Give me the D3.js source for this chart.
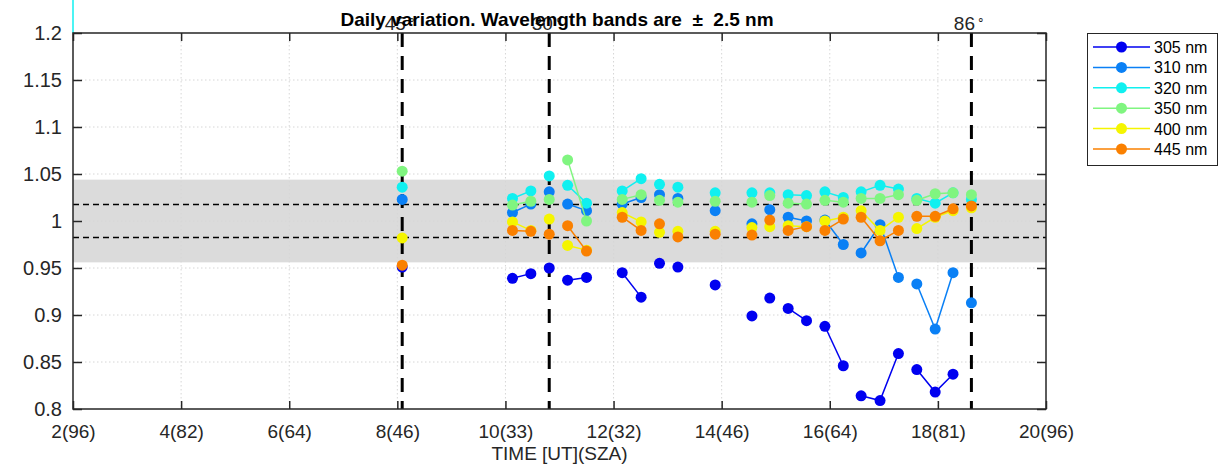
<!DOCTYPE html>
<html>
<head>
<meta charset="utf-8">
<script src="https://cdn.jsdelivr.net/npm/d3@7"></script>
<style>
  body { margin: 0; background: #fff; }
  svg text { font-family: "Liberation Sans", Arial, Helvetica, sans-serif; }
</style>
</head>
<body>
<svg id="chart" width="1224" height="464"></svg>
<script>
// Measurement times [UT hours]
const times = [8.09, 10.13, 10.47, 10.81, 11.15, 11.50, 12.16, 12.51, 12.85, 13.19,
  13.88, 14.56, 14.89, 15.23, 15.57, 15.91, 16.25, 16.58, 16.93, 17.27, 17.61, 17.95, 18.28, 18.62];
// which points are joined by a line
const groups = [[0], [1, 2], [3], [4, 5], [6, 7], [8], [9], [10], [11], [12],
  [13, 14], [15, 16], [17, 18, 19], [20, 21, 22], [23]];

const wl305 = [0.951, 0.939, 0.944, 0.950, 0.937, 0.940, 0.945, 0.919, 0.955, 0.951,
  0.932, 0.899, 0.918, 0.907, 0.894, 0.888, 0.846, 0.814, 0.809, 0.859, 0.842, 0.818, 0.837, null];
const wl310 = [1.023, 1.009, 1.018, 1.031, 1.018, 1.011, 1.018, 1.025, 1.028, 1.024,
  1.011, 0.997, 1.012, 1.004, 1.000, 1.001, 0.975, 0.966, 0.996, 0.940, 0.933, 0.885, 0.945, 0.913];
const wl320 = [1.036, 1.024, 1.032, 1.048, 1.038, 1.019, 1.032, 1.045, 1.039, 1.036,
  1.030, 1.030, 1.030, 1.028, 1.027, 1.031, 1.025, 1.031, 1.038, 1.034, 1.024, 1.019, 1.030, 1.023];
const wl350 = [1.053, 1.017, 1.021, 1.023, 1.065, 1.000, 1.023, 1.028, 1.022, 1.020,
  1.021, 1.020, 1.027, 1.019, 1.018, 1.022, 1.020, 1.024, 1.024, 1.028, 1.022, 1.029, 1.030, 1.028];
const wl400 = [0.982, 0.999, 0.990, 1.002, 0.974, 0.969, 1.009, 0.999, 0.988, 0.989,
  0.989, 0.993, 0.994, 0.995, 0.994, 1.000, 1.004, 1.011, 0.990, 1.004, 0.992, 1.004, 1.011, 1.014];
const wl445 = [0.953, 0.990, 0.989, 0.986, 0.995, 0.968, 1.004, 0.990, 0.997, 0.983,
  0.986, 0.985, 1.001, 0.990, 0.994, 0.990, 1.002, 1.004, 0.979, 0.990, 1.005, 1.005, 1.013, 1.016];

const seriesNames = ["305 nm", "310 nm", "320 nm", "350 nm", "400 nm", "445 nm"];
const seriesValues = [wl305, wl310, wl320, wl350, wl400, wl445];
const seriesColors = ["#0000f0", "#0a80f5", "#10f0f0", "#80f580", "#f5f500", "#fa8000"];

const xTicks = [2, 4, 6, 8, 10, 12, 14, 16, 18, 20];
const xTickLabels = ["2(96)", "4(82)", "6(64)", "8(46)", "10(33)", "12(32)", "14(46)", "16(64)", "18(81)", "20(96)"];
const yTicks = [0.8, 0.85, 0.9, 0.95, 1, 1.05, 1.1, 1.15, 1.2];

// vertical markers with their solar zenith angle
const markTimes = [8.09, 10.81, 18.62];
const markLabels = ["45", "30", "86"];

const band = [0.956, 1.044];
const limits = [0.9825, 1.0175];

const svg = d3.select("#chart");
const plotL = 73, plotR = 1046, plotT = 33, plotB = 409;
const ink = "#262626";

const x = d3.scaleLinear().domain([2, 20]).range([plotL, plotR]);
const y = d3.scaleLinear().domain([0.8, 1.2]).range([plotB, plotT]);

// grey tolerance band
svg.append("rect")
  .attr("x", plotL).attr("width", plotR - plotL)
  .attr("y", y(band[1])).attr("height", y(band[0]) - y(band[1]))
  .attr("fill", "#dbdbdb");

// dotted grid
const grid = svg.append("g").attr("stroke", "#d6d6d6").attr("stroke-width", 1).attr("stroke-dasharray", "1.5,2.5");
grid.selectAll(".gx").data(xTicks.slice(1, -1)).join("line")
  .attr("x1", d => x(d)).attr("x2", d => x(d)).attr("y1", plotT).attr("y2", plotB);
grid.selectAll(".gy").data(yTicks.slice(1, -1)).join("line")
  .attr("x1", plotL).attr("x2", plotR).attr("y1", d => y(d)).attr("y2", d => y(d));

// horizontal limit lines
svg.selectAll(".lim").data(limits).join("line")
  .attr("x1", plotL).attr("x2", plotR)
  .attr("y1", d => y(d)).attr("y2", d => y(d))
  .attr("stroke", "#000").attr("stroke-width", 1.5).attr("stroke-dasharray", "6,4");

// vertical dashed markers
svg.selectAll(".mark").data(markTimes).join("line")
  .attr("x1", d => x(d)).attr("x2", d => x(d)).attr("y1", plotT).attr("y2", plotB)
  .attr("stroke", "#000").attr("stroke-width", 3).attr("stroke-dasharray", "14,9");

// stray cyan segment above the axes
svg.append("line")
  .attr("x1", x(2)).attr("x2", x(2)).attr("y1", 0).attr("y2", plotT)
  .attr("stroke", "#10f0f0").attr("stroke-width", 1.5);

// data
const line = d3.line().x(d => x(d[0])).y(d => y(d[1]));
seriesValues.forEach((vals, si) => {
  const g = svg.append("g");
  groups.forEach(idx => {
    const pts = idx.filter(i => vals[i] != null).map(i => [times[i], vals[i]]);
    if (pts.length > 1) {
      g.append("path").attr("d", line(pts)).attr("fill", "none")
        .attr("stroke", seriesColors[si]).attr("stroke-width", 1.5);
    }
  });
  g.selectAll("circle").data(times.map((t, i) => [t, vals[i]]).filter(d => d[1] != null))
    .join("circle")
    .attr("cx", d => x(d[0])).attr("cy", d => y(d[1])).attr("r", 5.5)
    .attr("fill", seriesColors[si]);
});

// axes box and ticks
const axisG = svg.append("g");
axisG.append("rect").attr("x", plotL).attr("y", plotT).attr("width", plotR - plotL).attr("height", plotB - plotT)
  .attr("fill", "none").attr("stroke", ink).attr("stroke-width", 1.5);

const xAxis = d3.axisBottom(x).tickValues(xTicks).tickSize(-8).tickPadding(16)
  .tickFormat((d, i) => xTickLabels[i]);
const gx = axisG.append("g").attr("transform", `translate(0,${plotB})`).call(xAxis);
const yAxis = d3.axisLeft(y).tickValues(yTicks).tickSize(-9).tickPadding(11)
  .tickFormat(d => String(+d.toFixed(2)));
const gy = axisG.append("g").attr("transform", `translate(${plotL},0)`).call(yAxis);
const gxTop = axisG.append("g").attr("transform", `translate(0,${plotT})`)
  .call(d3.axisTop(x).tickValues(xTicks).tickSize(-8).tickFormat(""));
const gyRight = axisG.append("g").attr("transform", `translate(${plotR},0)`)
  .call(d3.axisRight(y).tickValues(yTicks).tickSize(-9).tickFormat(""));
[gx, gy, gxTop, gyRight].forEach(g => {
  g.select(".domain").remove();
  g.selectAll(".tick line").attr("stroke", ink).attr("stroke-width", 1.5);
  g.selectAll("text").attr("font-size", 19).attr("fill", ink)
    .attr("font-family", "'Liberation Sans', Arial, sans-serif");
});
gx.selectAll("text").attr("dy", "0.71em");
gy.selectAll("text").attr("font-size", 20);

// marker labels (SZA in degrees)
const mlab = svg.selectAll(".mlab").data(markTimes).join("text")
  .attr("x", d => x(d) - 2).attr("y", 30).attr("text-anchor", "middle")
  .attr("font-size", 19).attr("fill", ink);
mlab.append("tspan").text((d, i) => markLabels[i]);
mlab.append("tspan").attr("dx", 2).attr("dy", -6).attr("font-size", 12).text("∘");

// title and axis label
svg.append("text").attr("x", 557).attr("y", 26).attr("text-anchor", "middle")
  .attr("font-size", 19).attr("font-weight", "bold").attr("fill", "#000")
  .text("Daily variation. Wavelength bands are \u00a0±\u00a0 2.5 nm");
svg.append("text").attr("x", (plotL + plotR) / 2).attr("y", 460).attr("text-anchor", "middle")
  .attr("font-size", 19).attr("fill", ink).text("TIME [UT](SZA)");

// legend
const lg = svg.append("g");
lg.append("rect").attr("x", 1087.5).attr("y", 33.5).attr("width", 130).attr("height", 132)
  .attr("fill", "#fff").attr("stroke", ink).attr("stroke-width", 1);
const rows = lg.selectAll(".row").data(seriesNames).join("g")
  .attr("transform", (d, i) => `translate(0,${47 + i * 20.4})`);
rows.append("line").attr("x1", 1093).attr("x2", 1150).attr("y1", 0).attr("y2", 0)
  .attr("stroke", (d, i) => seriesColors[i]).attr("stroke-width", 1.5);
rows.append("circle").attr("cx", 1121.5).attr("cy", 0).attr("r", 5.5)
  .attr("fill", (d, i) => seriesColors[i]);
rows.append("text").attr("x", 1154).attr("y", 6).attr("font-size", 16).attr("fill", "#000")
  .text(d => d);
</script>
</body>
</html>
